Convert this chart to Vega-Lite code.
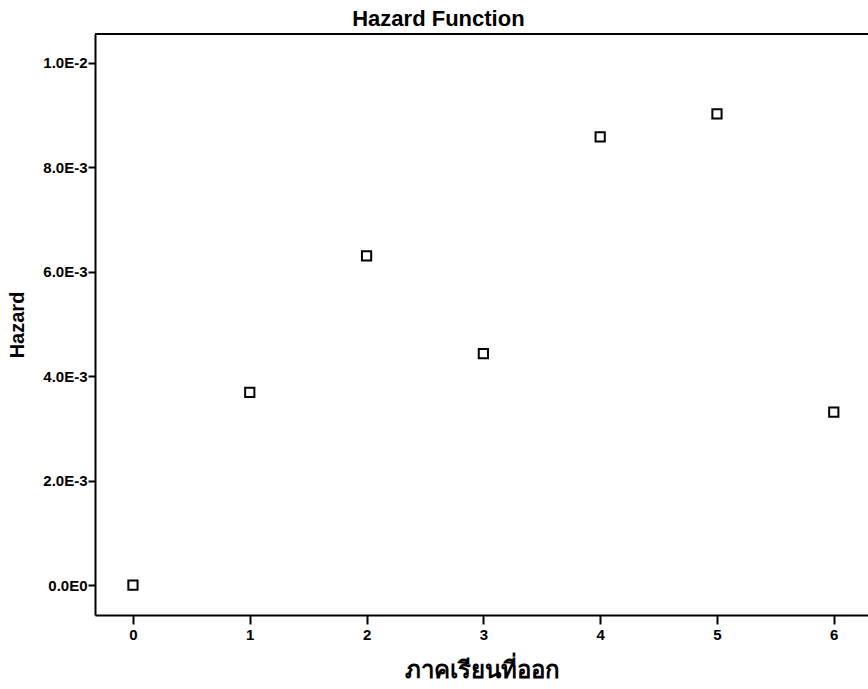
{
  "$schema": "https://vega.github.io/schema/vega-lite/v6.json",
  "width": 773,
  "height": 581,
  "autosize": "none",
  "padding": {"left": 95, "top": 34, "right": 0, "bottom": 74},
  "background": "white",
  "config": {
    "view": {"stroke": null},
    "font": "Liberation Sans"
  },
  "title": {
    "text": "Hazard Function",
    "fontSize": 22,
    "fontWeight": "bold",
    "font": "Liberation Sans",
    "color": "black",
    "anchor": "middle",
    "frame": "bounds",
    "offset": 2
  },
  "data": {
    "values": [
      {"semester": 0, "hazard": 0.0},
      {"semester": 1, "hazard": 0.00369},
      {"semester": 2, "hazard": 0.0063},
      {"semester": 3, "hazard": 0.00443},
      {"semester": 4, "hazard": 0.00858},
      {"semester": 5, "hazard": 0.00902},
      {"semester": 6, "hazard": 0.00331}
    ]
  },
  "layer": [
    {
      "mark": {"type": "rule", "strokeWidth": 2, "color": "black"},
      "encoding": {
        "y": {
          "datum": 0.01055,
          "type": "quantitative",
          "title": "Hazard",
          "scale": {"domain": [-0.000574, 0.01055], "nice": false, "zero": false},
          "axis": {
            "values": [0, 0.002, 0.004, 0.006, 0.008, 0.01],
            "labelExpr": "replace(replace(format(datum.value, '.1e'), 'e+', 'E'), 'e', 'E')",
            "labelFontSize": 15,
            "labelFontWeight": "bold",
            "labelColor": "black",
            "labelPadding": 1,
            "tickSize": 7,
            "tickWidth": 2,
            "tickColor": "black",
            "domainColor": "black",
            "domainWidth": 2,
            "grid": false,
            "titleFontSize": 20,
            "titleFontWeight": "bold",
            "titleColor": "black",
            "titlePadding": 15
          }
        }
      }
    },
    {
      "mark": {"type": "point", "shape": "square", "filled": false, "stroke": "black", "strokeWidth": 2, "size": 85, "opacity": 1},
      "encoding": {
        "x": {
          "field": "semester",
          "type": "quantitative",
          "title": "ภาคเรียนที่ออก",
          "scale": {"domain": [-0.325, 6.293], "nice": false, "zero": false},
          "axis": {
            "values": [0, 1, 2, 3, 4, 5, 6],
            "format": "d",
            "labelFontSize": 15,
            "labelFontWeight": "bold",
            "labelColor": "black",
            "labelPadding": 3,
            "tickSize": 9,
            "tickWidth": 2,
            "tickColor": "black",
            "domainColor": "black",
            "domainWidth": 2,
            "grid": false,
            "titleFontSize": 24,
            "titleFontWeight": "bold",
            "titleColor": "black",
            "titlePadding": 16
          }
        },
        "y": {
          "field": "hazard",
          "type": "quantitative",
          "title": "Hazard",
          "scale": {"domain": [-0.000574, 0.01055], "nice": false, "zero": false},
          "axis": {
            "values": [0, 0.002, 0.004, 0.006, 0.008, 0.01],
            "labelExpr": "replace(replace(format(datum.value, '.1e'), 'e+', 'E'), 'e', 'E')",
            "labelFontSize": 15,
            "labelFontWeight": "bold",
            "labelColor": "black",
            "labelPadding": 1,
            "tickSize": 7,
            "tickWidth": 2,
            "tickColor": "black",
            "domainColor": "black",
            "domainWidth": 2,
            "grid": false,
            "titleFontSize": 20,
            "titleFontWeight": "bold",
            "titleColor": "black",
            "titlePadding": 15
          }
        }
      }
    }
  ]
}
